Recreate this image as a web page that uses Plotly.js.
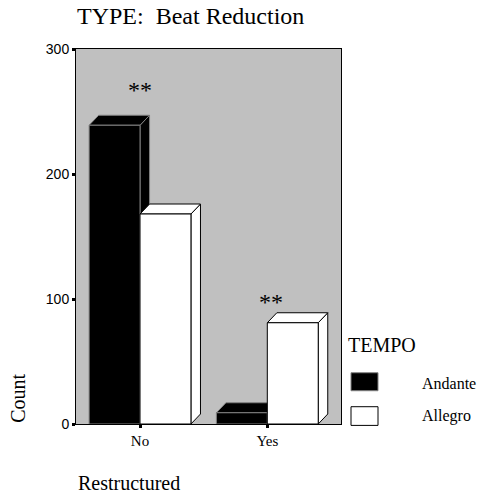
<!DOCTYPE html>
<html>
<head>
<meta charset="utf-8">
<script src="https://cdn.plot.ly/plotly-3.0.1.min.js"></script>
<style>html,body{margin:0;padding:0;background:#fff;}#chart{width:480px;height:497px;}</style>
</head>
<body>
<div id="chart"></div>
<script>
// ---- data ----
var categories = ['No', 'Yes'];
var seriesNames = ['Andante', 'Allegro'];
var andante = [239, 9];
var allegro = [168, 81];
var significance = ['**', '**'];
var legendTitle = 'TEMPO';
var chartTitle = 'TYPE:  Beat Reduction';
var xTitle = 'Restructured';
var yTitle = 'Count';
var yTicks = [0, 100, 200, 300];

// ---- layout geometry (pixels) ----
var W = 480, H = 497;
var L = 76, R = 341, T = 49, B = 424.3;
var pw = R - L, ph = B - T;
function px(x) { return (x - L) / pw; }
function py(y) { return (B - y) / ph; }

var barW = 0.4;
var dX = 0.075;   // depth in x units
var dY = 8;       // depth in y units

var styles = [
  {fill: '#000000', line: '#808080'},
  {fill: '#ffffff', line: '#000000'}
];
var values = [andante, allegro];
var offsets = [-barW, 0];

var traces = [];
for (var s = 0; s < values.length; s++) {
  for (var i = 0; i < categories.length; i++) {
    var v = values[s][i];
    var x0 = i + offsets[s], x1 = x0 + barW;
    var faces = [
      {x: [x1, x1 + dX, x1 + dX, x1, x1], y: [0, dY, v + dY, v, 0]},
      {x: [x0, x1, x1 + dX, x0 + dX, x0], y: [v, v, v + dY, v + dY, v]},
      {x: [x0, x1, x1, x0, x0], y: [0, 0, v, v, 0]}
    ];
    faces.forEach(function (f) {
      traces.push({
        type: 'scatter', mode: 'lines', x: f.x, y: f.y,
        fill: 'toself', fillcolor: styles[s].fill,
        line: {color: styles[s].line, width: 1},
        name: seriesNames[s], showlegend: false, hoverinfo: 'skip'
      });
    });
  }
}

var serif = 'Liberation Serif';
var sans = 'Liberation Sans';

var annotations = [
  {text: significance[0], x: 0, y: 267, xref: 'x', yref: 'y', showarrow: false,
   font: {family: serif, size: 24, color: '#000'}},
  {text: significance[1], x: 1.03, y: 98, xref: 'x', yref: 'y', showarrow: false,
   font: {family: serif, size: 24, color: '#000'}},
  {text: yTitle, x: px(18), y: py(399), xref: 'paper', yref: 'paper', textangle: -90,
   showarrow: false, xanchor: 'center', yanchor: 'middle', font: {family: serif, size: 20, color: '#000'}},
  {text: xTitle, x: px(76), y: py(483.3), xref: 'paper', yref: 'paper', showarrow: false,
   xanchor: 'left', yanchor: 'middle', font: {family: serif, size: 20, color: '#000'}},
  {text: legendTitle, x: px(346), y: py(345), xref: 'paper', yref: 'paper', showarrow: false,
   xanchor: 'left', yanchor: 'middle', font: {family: serif, size: 20, color: '#000'}},
  {text: seriesNames[0], x: px(420), y: py(384), xref: 'paper', yref: 'paper', showarrow: false,
   xanchor: 'left', yanchor: 'middle', font: {family: serif, size: 16, color: '#000'}},
  {text: seriesNames[1], x: px(420), y: py(416.7), xref: 'paper', yref: 'paper', showarrow: false,
   xanchor: 'left', yanchor: 'middle', font: {family: serif, size: 16, color: '#000'}}
];

var shapes = [
  {type: 'rect', xref: 'paper', yref: 'paper', x0: px(351), x1: px(378), y0: py(391), y1: py(373),
   fillcolor: styles[0].fill, line: {color: styles[0].line, width: 1}},
  {type: 'rect', xref: 'paper', yref: 'paper', x0: px(351), x1: px(378), y0: py(425.7), y1: py(407),
   fillcolor: styles[1].fill, line: {color: styles[1].line, width: 1}}
];

var layout = {
  width: W, height: H,
  font: {family: serif, color: '#000'},
  margin: {l: L, r: W - R, t: T, b: H - B, pad: 0},
  paper_bgcolor: '#ffffff',
  plot_bgcolor: '#c0c0c0',
  showlegend: false,
  title: {text: chartTitle, x: px(77), xref: 'paper', xanchor: 'left',
          y: 1 - 15.6 / H, yref: 'container', yanchor: 'middle',
          font: {family: serif, size: 24, color: '#000'}},
  xaxis: {
    range: [-0.503, 1.579], tickvals: [0, 1], ticktext: categories,
    showgrid: false, zeroline: false, showline: true, mirror: true,
    linecolor: '#000', linewidth: 1, ticks: 'outside', ticklen: 3, tickwidth: 3,
    tickcolor: '#000', tickfont: {family: serif, size: 15, color: '#000'}, fixedrange: true
  },
  yaxis: {
    range: [0, 300], tickvals: yTicks,
    showgrid: false, zeroline: false, showline: true, mirror: true,
    linecolor: '#000', linewidth: 1, ticks: 'outside', ticklen: 3, tickwidth: 3,
    tickcolor: '#000', tickfont: {family: sans, size: 14, color: '#000'}, fixedrange: true
  },
  annotations: annotations,
  shapes: shapes
};

Plotly.newPlot('chart', traces, layout, {displayModeBar: false, staticPlot: true});
</script>
</body>
</html>
